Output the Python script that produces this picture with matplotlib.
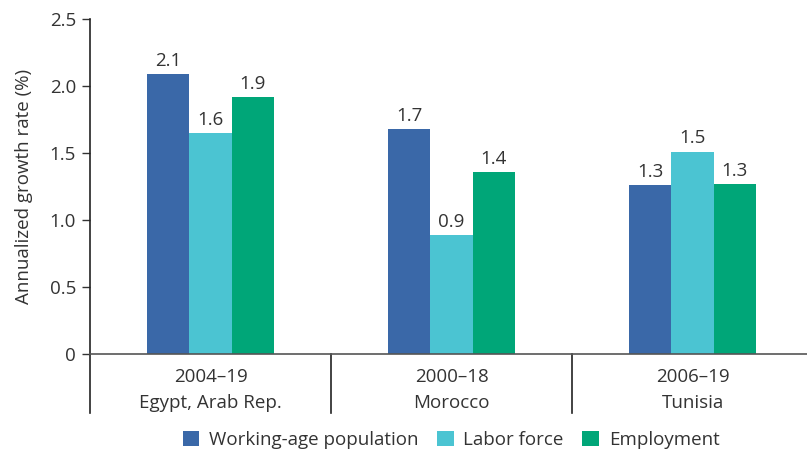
import matplotlib.pyplot as plt
import numpy as np

plt.rcParams['font.family'] = ['Open Sans', 'DejaVu Sans']

# data
periods = ['2004\u201319', '2000\u201318', '2006\u201319']
countries = ['Egypt, Arab Rep.', 'Morocco', 'Tunisia']
series_names = ['Working-age population', 'Labor force', 'Employment']
working_age = [2.09, 1.68, 1.26]
labor_force = [1.65, 0.89, 1.51]
employment = [1.92, 1.36, 1.27]
value_labels = [['2.1', '1.7', '1.3'], ['1.6', '0.9', '1.5'], ['1.9', '1.4', '1.3']]
yticks = [0, 0.5, 1.0, 1.5, 2.0, 2.5]
ytick_labels = ['0', '0.5', '1.0', '1.5', '2.0', '2.5']

colors = ['#3A68A8', '#4BC4D2', '#00A678']
text_color = '#333333'
fs = 13.5

fig = plt.figure(figsize=(8.07, 4.51), dpi=100)
ax = fig.add_axes([90 / 807, 1 - 354 / 451, 717 / 807, 335 / 451])

x = np.arange(len(periods))
width = 0.175
all_series = [working_age, labor_force, employment]
for i, (vals, name) in enumerate(zip(all_series, series_names)):
    pos = x + (i - 1) * width
    ax.bar(pos, vals, width, color=colors[i], label=name, zorder=2)
    for px, v, lab in zip(pos, vals, value_labels[i]):
        ax.annotate(lab, (px, v), xytext=(0, 3), textcoords='offset points',
                    ha='center', va='bottom', fontsize=fs, color=text_color)

ax.set_xlim(-0.5, 2.475)
ax.set_ylim(0, 2.5)
ax.set_yticks(yticks)
ax.set_yticklabels(ytick_labels)
ax.set_xticks([])
ax.tick_params(axis='y', length=6, width=1, colors=text_color, labelsize=fs, pad=4)
ax.set_ylabel('Annualized growth rate (%)', fontsize=fs, color=text_color, labelpad=12)

for s in ['top', 'right', 'left']:
    ax.spines[s].set_visible(False)
ax.spines['bottom'].set_color('#555555')
ax.spines['bottom'].set_linewidth(1.2)

# left spine and group separators extend below the zero line
ext = -59 / 335
ax.plot([-0.5, -0.5], [ext, 1], transform=ax.get_xaxis_transform(),
        color='#222222', lw=1.2, clip_on=False)
for sep in [0.5, 1.5]:
    ax.plot([sep, sep], [ext, 0], transform=ax.get_xaxis_transform(),
            color='#222222', lw=1.2, clip_on=False)

for xi, per, ctry in zip(x, periods, countries):
    ax.text(xi, -23 / 335, per, transform=ax.get_xaxis_transform(),
            ha='center', va='center', fontsize=fs, color=text_color)
    ax.text(xi, -49 / 335, ctry, transform=ax.get_xaxis_transform(),
            ha='center', va='center', fontsize=fs, color=text_color)

leg = fig.legend(loc='center', bbox_to_anchor=(451 / 807, 1 - 440 / 451), ncol=3,
                 frameon=False, fontsize=fs, handlelength=0.9, handleheight=0.9,
                 handletextpad=0.5, columnspacing=1.0)
for t in leg.get_texts():
    t.set_color(text_color)

fig.savefig('out.png', dpi=100)
